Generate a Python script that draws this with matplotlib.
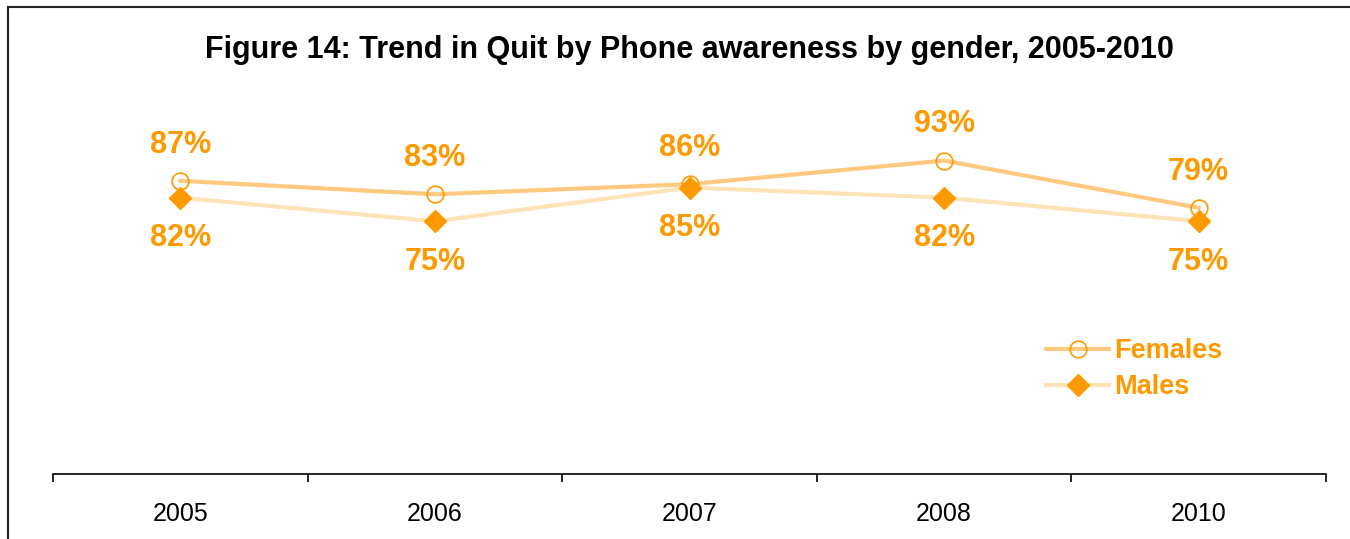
import matplotlib.pyplot as plt
import numpy as np

plt.rcParams['font.family'] = ['Liberation Sans', 'DejaVu Sans']

# data
years = ['2005', '2006', '2007', '2008', '2010']
females = [87, 83, 86, 93, 79]
males = [82, 75, 85, 82, 75]

orange = '#FF9900'
fem_line = '#FFC97F'
mal_line = '#FFE3B8'

fig = plt.figure(figsize=(13.5, 5.39), dpi=100)
W, H = 1350, 539
# plot area in pixels: left 53, right 1326, bottom 474, top 137
ax = fig.add_axes([53 / W, 1 - 474 / H, (1326 - 53) / W, (474 - 137) / H])

x = np.arange(len(years))
ax.plot(x, females, color=fem_line, lw=3, marker='o', ms=12,
        mfc='none', mec=orange, mew=1.2, label='Females', zorder=3)
ax.plot(x, males, color=mal_line, lw=3, marker='D', ms=11,
        mfc=orange, mec=orange, label='Males', zorder=3)

for i in range(len(years)):
    ax.annotate('%d%%' % females[i], (x[i], females[i]), xytext=(0, 26),
                textcoords='offset points', ha='center', va='center',
                color=orange, fontsize=22, fontweight='bold')
    ax.annotate('%d%%' % males[i], (x[i], males[i]), xytext=(0, -29),
                textcoords='offset points', ha='center', va='center',
                color=orange, fontsize=22, fontweight='bold')

ax.set_xlim(-0.5, len(years) - 0.5)
ax.set_ylim(0, 100)
ax.set_yticks([])
ax.set_xticks(np.arange(len(years) + 1) - 0.5)
ax.set_xticklabels([])
ax.set_xticks(x, minor=True)
ax.set_xticklabels(years, minor=True, fontsize=18)
ax.tick_params(axis='x', which='major', direction='out', length=6, width=1.2)
ax.tick_params(axis='x', which='minor', length=0, pad=20)
for s in ['left', 'right', 'top']:
    ax.spines[s].set_visible(False)
ax.spines['bottom'].set_linewidth(1.2)

leg = fig.legend(*ax.get_legend_handles_labels(), loc='center left',
                 bbox_to_anchor=(1022 / W, 1 - 369 / H),
                 frameon=False, handlelength=2.3, handletextpad=0.2, labelspacing=0.37,
                 prop={'size': 19.5, 'weight': 'bold'})
for t in leg.get_texts():
    t.set_color(orange)

fig.text(689 / W, 1 - 50 / H, 'Figure 14: Trend in Quit by Phone awareness by gender, 2005-2010',
         ha='center', va='center', fontsize=22, fontweight='bold')

# frame edges on left and top
fig.add_artist(plt.Line2D([8 / W, 8 / W], [0, 1 - 7 / H], color='#222222', lw=1.5))
fig.add_artist(plt.Line2D([8 / W, 1], [1 - 7 / H, 1 - 7 / H], color='#222222', lw=1.5))

fig.savefig('out.png', dpi=100)
